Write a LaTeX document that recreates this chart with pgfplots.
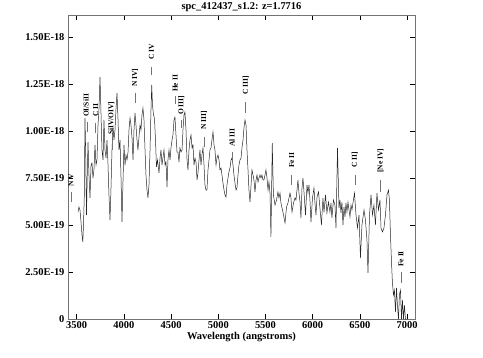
\documentclass[border=0pt]{standalone}
\usepackage{pgfplots}
\pgfplotsset{compat=1.18}
\usepackage{fontspec}
\setmainfont{Liberation Serif}
\pgfplotstableread{
x y
3514 0.569
3524 0.596
3535 0.580
3546 0.516
3556 0.447
3565 0.410
3572 0.500
3581 0.660
3588 1.069
3595 0.899
3604 0.553
3612 0.766
3620 0.941
3630 0.766
3641 0.644
3652 0.819
3662 0.830
3673 0.750
3683 0.793
3694 0.926
3705 0.819
3715 0.846
3726 1.032
3736 1.112
3747 1.287
3758 1.085
3768 0.899
3779 0.846
3789 1.059
3800 0.899
3811 0.856
3821 0.952
3832 0.819
3842 0.660
3853 0.527
3863 0.686
3874 0.899
3885 1.016
3895 0.952
3906 1.005
3916 1.112
3927 1.202
3938 1.059
3948 0.899
3959 0.952
3969 0.766
3980 0.516
3991 0.739
4001 0.926
4012 0.819
4022 0.872
4033 0.846
4044 0.888
4054 1.005
4065 1.069
4075 1.032
4086 0.963
4097 0.846
4107 1.005
4118 1.096
4128 1.032
4139 0.952
4149 0.899
4160 0.968
4171 1.032
4181 1.005
4192 1.085
4202 1.122
4213 1.059
4224 0.899
4234 0.766
4245 0.686
4255 0.644
4266 0.713
4277 0.899
4287 1.112
4295 1.245
4303 1.138
4314 1.085
4324 1.069
4335 0.952
4345 0.809
4356 0.846
4372 0.777
4383 0.856
4393 0.899
4404 0.819
4415 0.862
4425 0.899
4436 0.819
4446 0.835
4457 0.702
4467 0.846
4478 0.899
4489 0.846
4499 0.910
4510 0.952
4520 0.979
4531 1.059
4541 1.074
4552 0.979
4563 0.888
4573 0.888
4584 0.835
4594 0.910
4605 0.888
4616 0.899
4626 1.005
4637 1.085
4647 1.101
4658 1.005
4669 0.846
4679 0.793
4690 0.899
4700 0.952
4711 0.979
4722 0.910
4732 0.926
4743 0.819
4753 0.856
4764 0.835
4775 0.739
4785 0.777
4796 0.846
4806 0.899
4817 0.819
4827 0.872
4838 0.910
4849 0.819
4859 0.713
4870 0.686
4880 0.686
4891 0.793
4902 0.846
4912 0.899
4923 0.910
4933 0.952
4944 0.995
4955 0.926
4965 0.899
4976 0.819
4986 0.856
4997 0.872
5008 0.846
5018 0.793
5029 0.803
5039 0.766
5050 0.723
5061 0.686
5071 0.660
5082 0.649
5092 0.713
5103 0.750
5113 0.782
5124 0.803
5135 0.846
5145 0.856
5156 0.819
5166 0.766
5177 0.723
5188 0.686
5198 0.697
5209 0.766
5219 0.819
5230 0.846
5241 0.856
5251 0.910
5262 0.952
5272 1.016
5283 1.059
5294 1.032
5304 0.899
5315 0.793
5325 0.686
5336 0.622
5347 0.713
5357 0.793
5368 0.766
5378 0.739
5389 0.676
5400 0.739
5410 0.766
5421 0.729
5431 0.750
5442 0.766
5452 0.750
5463 0.766
5474 0.739
5484 0.740
5495 0.766
5505 0.793
5516 0.750
5527 0.686
5537 0.729
5548 0.670
5558 0.436
5572 0.936
5584 0.660
5601 0.606
5617 0.633
5632 0.676
5643 0.644
5654 0.670
5664 0.617
5685 0.569
5707 0.511
5723 0.596
5738 0.617
5760 0.670
5770 0.644
5781 0.569
5797 0.617
5813 0.644
5823 0.633
5834 0.686
5844 0.739
5855 0.670
5866 0.622
5876 0.537
5887 0.697
5897 0.750
5908 0.676
5924 0.553
5940 0.713
5950 0.670
5961 0.713
5971 0.633
5982 0.516
5998 0.644
6014 0.697
6024 0.617
6035 0.553
6046 0.649
6062 0.676
6077 0.590
6093 0.500
6109 0.644
6120 0.569
6136 0.660
6151 0.564
6167 0.622
6183 0.569
6194 0.617
6204 0.537
6220 0.633
6236 0.606
6247 0.484
6263 0.910
6279 0.590
6289 0.633
6300 0.564
6310 0.622
6321 0.500
6332 0.596
6342 0.543
6353 0.617
6363 0.569
6374 0.622
6385 0.580
6395 0.543
6406 0.606
6416 0.580
6443 0.670
6459 0.553
6475 0.484
6491 0.553
6506 0.324
6522 0.500
6544 0.580
6559 0.527
6575 0.420
6586 0.245
6602 0.553
6618 0.660
6634 0.553
6649 0.606
6665 0.500
6681 0.670
6697 0.580
6713 0.633
6724 0.484
6739 0.463
6755 0.484
6771 0.553
6787 0.660
6803 0.686
6813 0.633
6824 0.447
6835 0.303
6845 0.191
6856 0.128
6866 0.154
6877 0.037
6888 0.165
6898 0.074
6909 0.000
6919 0.128
6930 0.154
6941 0.000
6951 0.101
6962 0.000
6972 0.074
6983 0.000
6994 0.000
}\spectrum
\newcommand{\lbl}{\fontsize{7.5}{8}\selectfont\bfseries}
\begin{document}
\begin{tikzpicture}
\useasboundingbox (-68bp,-39bp) rectangle (415bp,319bp);
\begin{axis}[
  at={(0,0)}, anchor=south west,
  scale only axis, width=347bp, height=304bp,
  xmin=3408, xmax=7084, ymin=0, ymax=1.617,
  axis line style={black!55},
  tick style={black, line width=0.6pt},
  major tick length=5bp,
  tick align=inside,
  xtick={3500,4000,4500,5000,5500,6000,6500,7000},
  xticklabels={3500,4000,4500,5000,5500,6000,6500,7000},
  ytick={0,0.25,0.5,0.75,1.0,1.25,1.5},
  yticklabels={0,2.50E-19,5.00E-19,7.50E-19,1.00E-18,1.25E-18,1.50E-18},
  tick label style={font=\fontsize{10.5}{12}\selectfont\bfseries},
  xticklabel style={yshift=1bp},
  title={spc\_412437\_s1.2: z=1.7716},
  title style={font=\fontsize{10.5}{12}\selectfont\bfseries, yshift=-6bp},
  xlabel={Wavelength (angstroms)},
  xlabel style={font=\fontsize{10.5}{12}\selectfont\bfseries, yshift=3bp},
  clip=false,
]
\addplot[black!85, line width=0.5pt] table[x=x, y=y] {\spectrum};
\addplot[black!55, line width=0.6pt, unbounded coords=jump] coordinates {
(3440,0.676) (3440,0.622) (3440,nan)
(3614,1.048) (3614,0.995) (3614,nan)
(3700,1.043) (3700,0.989) (3700,nan)
(3880,0.952) (3880,0.899) (3880,nan)
(4119,1.202) (4119,1.149) (4119,nan)
(4293,1.340) (4293,1.298) (4293,nan)
(4545,1.186) (4545,1.144) (4545,nan)
(4609,1.059) (4609,1.016) (4609,nan)
(4850,0.968) (4850,0.915) (4850,nan)
(5147,0.888) (5147,0.835) (5147,nan)
(5291,1.154) (5291,1.096) (5291,nan)
(5778,0.766) (5778,0.713) (5778,nan)
(6447,0.766) (6447,0.713) (6447,nan)
(6718,0.739) (6718,0.676) (6718,nan)
(6935,0.250) (6935,0.191)
};
\begin{scope}[every node/.style={rotate=90, anchor=west, inner sep=0pt, font=\lbl}]
\node at (axis cs:3440,0.702) {N V};
\node at (axis cs:3600,1.074) {OI/SiII};
\node at (axis cs:3700,1.074) {C II};
\node at (axis cs:3866,0.979) {SiIV/OIV]};
\node at (axis cs:4119,1.234) {N IV]};
\node at (axis cs:4293,1.378) {C IV};
\node at (axis cs:4545,1.207) {He II};
\node at (axis cs:4609,1.085) {O III]};
\node at (axis cs:4850,1.005) {N III]};
\node at (axis cs:5147,0.915) {Al III};
\node at (axis cs:5291,1.191) {C III]};
\node at (axis cs:5778,0.803) {Fe II};
\node at (axis cs:6447,0.803) {C II]};
\node at (axis cs:6718,0.777) {[Ne IV]};
\node at (axis cs:6935,0.277) {Fe II};
\end{scope}
\end{axis}
\end{tikzpicture}
\end{document}
